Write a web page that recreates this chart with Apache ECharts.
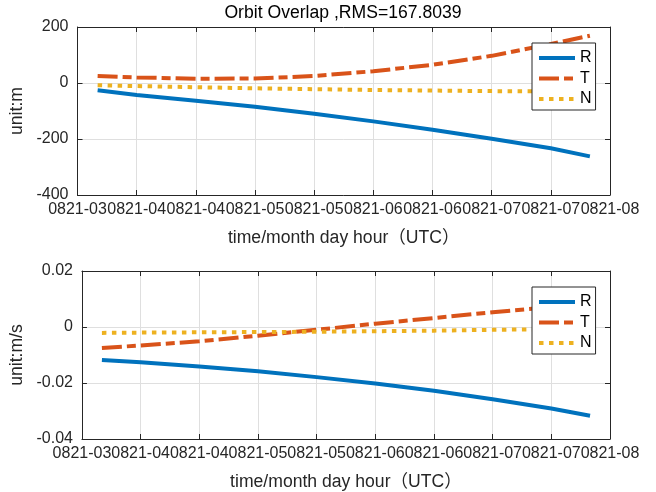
<!DOCTYPE html>
<html>
<head>
<meta charset="utf-8">
<script src="https://cdn.jsdelivr.net/npm/echarts@6/dist/echarts.min.js"></script>
<style>
html,body{margin:0;padding:0;background:#fff;}
#chart{width:656px;height:492px;}
</style>
</head>
<body>
<div id="chart"></div>
<script>
// ---- data (x in hours of UTC on 08-21) ----
const hours = [3.67, 4.0, 4.5, 5.0, 5.5, 6.0, 6.5, 7.0, 7.5, 7.83];
const tickLabels = ['0821-03','0821-04','0821-04','0821-05','0821-05','0821-06','0821-06','0821-07','0821-07','0821-08'];
const seriesNames = ['R', 'T', 'N'];

// position differences (m)
const posR = [-26, -43, -63, -85, -110, -137, -167, -199, -233, -262];
const posT = [25, 20, 15, 16, 25, 42, 65, 97, 139, 169];
const posN = [-8, -11, -15, -19, -22, -25, -27, -29, -30, -31];

// velocity differences (m/s)
const velR = [-0.0118, -0.0126, -0.0141, -0.0158, -0.0179, -0.0202, -0.0228, -0.0258, -0.0291, -0.0317];
const velT = [-0.0075, -0.0066, -0.0051, -0.0031, -0.0010, 0.0012, 0.0032, 0.0053, 0.0071, 0.0084];
const velN = [-0.0021, -0.0020, -0.0019, -0.0018, -0.0017, -0.0015, -0.0013, -0.0010, -0.0008, -0.0006];

const titleText = 'Orbit Overlap ,RMS=167.8039';
const xName = 'time/month day hour（UTC）';
const yNames = ['unit:m', 'unit:m/s'];

// ---- styles ----
const FONT = '"Liberation Sans", Arial, "Noto Sans CJK SC", sans-serif';
const AX = '#262626';
const colors = {R: '#0072BD', T: '#D95319', N: '#EDB120'};
const dashes = {R: 'solid', T: [20, 5, 9, 5], N: [4.5, 5.5]};

const pair = (xs, ys) => xs.map((x, i) => [x, ys[i]]);

function mainX(gi) {
  return {
    type: 'value', gridIndex: gi, min: 3.5, max: 8, interval: 0.5,
    name: xName, nameLocation: 'middle', nameGap: 34,
    nameTextStyle: {fontFamily: FONT, fontSize: 17.6, color: AX},
    axisLine: {show: true, onZero: false, lineStyle: {color: AX, width: 1}},
    axisTick: {show: true, inside: true, length: 5, lineStyle: {color: AX}},
    axisLabel: {
      fontFamily: FONT, fontSize: 16, color: AX, margin: 7,
      formatter: v => tickLabels[Math.round((v - 3.5) / 0.5)]
    },
    splitLine: {show: true, lineStyle: {color: '#dfdfdf', width: 1}}
  };
}
function boxX(gi) {
  return {
    type: 'value', gridIndex: gi, min: 3.5, max: 8, interval: 0.5, position: 'top',
    axisLine: {show: true, onZero: false, lineStyle: {color: AX, width: 1}},
    axisTick: {show: true, inside: true, length: 5, lineStyle: {color: AX}},
    axisLabel: {show: false}, splitLine: {show: false}
  };
}
function mainY(gi, min, max, interval, name) {
  return {
    type: 'value', gridIndex: gi, min: min, max: max, interval: interval,
    name: name, nameLocation: 'middle', nameGap: 51,
    nameTextStyle: {fontFamily: FONT, fontSize: 17.6, color: AX},
    axisLine: {show: true, onZero: false, lineStyle: {color: AX, width: 1}},
    axisTick: {show: true, inside: true, length: 5, lineStyle: {color: AX}},
    axisLabel: {fontFamily: FONT, fontSize: 16, color: AX, margin: 9},
    splitLine: {show: true, lineStyle: {color: '#dfdfdf', width: 1}}
  };
}
function boxY(gi, min, max, interval) {
  return {
    type: 'value', gridIndex: gi, min: min, max: max, interval: interval, position: 'right',
    axisLine: {show: true, onZero: false, lineStyle: {color: AX, width: 1}},
    axisTick: {show: true, inside: true, length: 5, lineStyle: {color: AX}},
    axisLabel: {show: false}, splitLine: {show: false}
  };
}
function mkSeries(name, data, xi, yi) {
  return {
    type: 'line', name: name, xAxisIndex: xi, yAxisIndex: yi,
    data: data, showSymbol: false, symbol: 'none', smooth: false,
    lineStyle: {color: colors[name], width: 4, type: dashes[name], cap: 'butt'},
    itemStyle: {color: colors[name]}, z: 2
  };
}
function mkLegend(top) {
  return {
    orient: 'vertical', left: 532, top: top,
    padding: [7, 4, 3, 5], itemWidth: 36, itemHeight: 14, itemGap: 4.5,
    backgroundColor: '#fff', borderColor: AX, borderWidth: 1, borderRadius: 0,
    textStyle: {fontFamily: FONT, fontSize: 16, color: '#000', lineHeight: 14},
    selectedMode: false,
    itemStyle: {opacity: 0, borderWidth: 0},
    data: seriesNames.map(n => ({name: n,
      itemStyle: {opacity: 0, borderWidth: 0},
      lineStyle: {color: colors[n], width: 4, type: dashes[n], cap: 'butt', opacity: 1}})),
    z: 10
  };
}

const chart = echarts.init(document.getElementById('chart'), null, {renderer: 'canvas'});
chart.setOption({
  backgroundColor: '#fff',
  animation: false,
  title: {
    text: titleText, left: 343, top: 4, textAlign: 'center', padding: 0,
    textStyle: {fontFamily: FONT, fontSize: 17.6, fontWeight: 'normal', color: '#000'}
  },
  grid: [
    {left: 77, top: 27, width: 533, height: 168, containLabel: false},
    {left: 77, top: 271, width: 533, height: 168, containLabel: false}
  ],
  xAxis: [mainX(0), mainX(1), boxX(0), boxX(1)],
  yAxis: [
    mainY(0, -400, 200, 200, yNames[0]),
    mainY(1, -0.04, 0.02, 0.02, yNames[1]),
    boxY(0, -400, 200, 200),
    boxY(1, -0.04, 0.02, 0.02)
  ],
  legend: [mkLegend(43), mkLegend(287)],
  series: [
    mkSeries('R', pair(hours, posR), 0, 0),
    mkSeries('T', pair(hours, posT), 0, 0),
    mkSeries('N', pair(hours, posN), 0, 0),
    mkSeries('R', pair(hours, velR), 1, 1),
    mkSeries('T', pair(hours, velT), 1, 1),
    mkSeries('N', pair(hours, velN), 1, 1)
  ]
});
</script>
</body>
</html>
